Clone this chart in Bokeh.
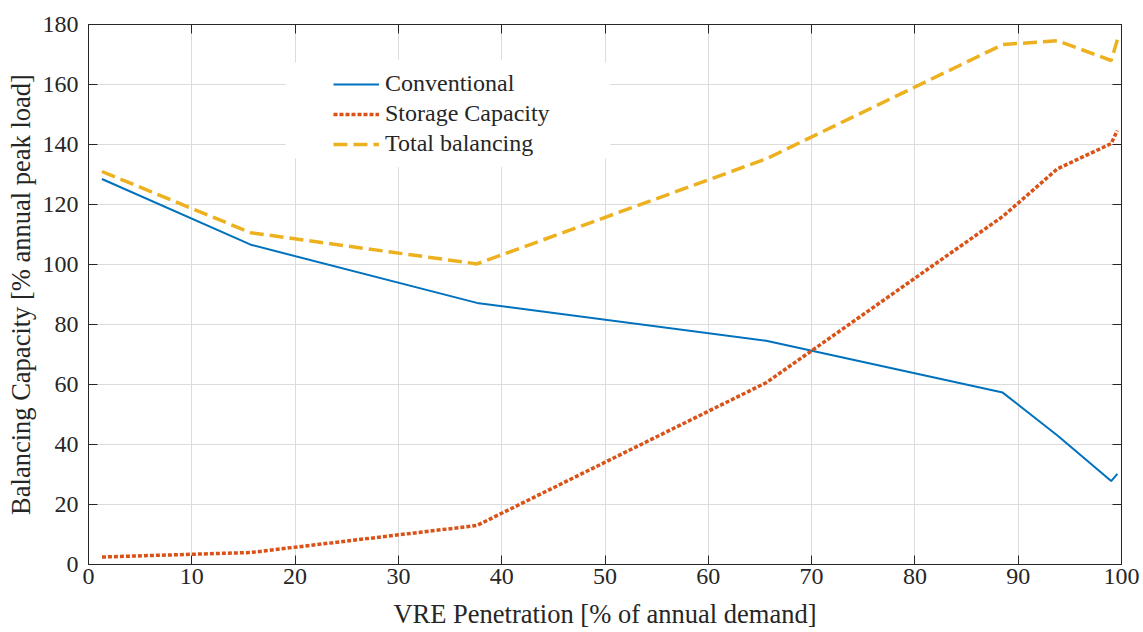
from bokeh.plotting import figure
from bokeh.models import (Range1d, LinearAxis, FixedTicker, Legend, LegendItem,
                          BoxAnnotation)
from bokeh.embed import file_html
from bokeh.resources import INLINE

# ---- data ----
vre = [1.3, 15.7, 37.6, 65.6, 88.5, 93.8, 99.0, 99.6]
conventional = [128.5, 106.6, 87.2, 74.6, 57.3, 43.0, 27.8, 30.2]
storage = [2.5, 4.0, 13.0, 60.6, 116.0, 131.9, 140.3, 144.7]
total = [131.0, 110.6, 100.2, 135.2, 173.3, 174.6, 168.0, 174.9]

x_ticks = [0, 10, 20, 30, 40, 50, 60, 70, 80, 90, 100]
y_ticks = [0, 20, 40, 60, 80, 100, 120, 140, 160, 180]

FONT = "Liberation Serif"
AX = "#262626"
FS = "24px"
LFS = "26.5px"

p = figure(width=1140, height=632, output_backend="svg", toolbar_location=None,
           x_range=Range1d(0, 100), y_range=Range1d(0, 180),
           min_border_left=88, min_border_right=19, min_border_top=24,
           min_border_bottom=68)
p.background_fill_color = "white"
p.border_fill_color = "white"
p.outline_line_color = AX
p.outline_line_width = 1

for ax in p.xaxis + p.yaxis:
    ax.major_label_text_font = FONT
    ax.major_label_text_font_size = FS
    ax.major_label_text_color = AX
    ax.axis_label_text_font = FONT
    ax.axis_label_text_font_size = LFS
    ax.axis_label_text_font_style = "normal"
    ax.axis_label_text_color = AX
    ax.axis_line_color = AX
    ax.major_tick_line_color = AX
    ax.major_tick_in = 9
    ax.major_tick_out = 0
    ax.minor_tick_in = 0
    ax.minor_tick_out = 0

p.xaxis.ticker = FixedTicker(ticks=x_ticks)
p.yaxis.ticker = FixedTicker(ticks=y_ticks)
p.xaxis.axis_label = "VRE Penetration [% of annual demand]"
p.yaxis.axis_label = "Balancing Capacity [% annual peak load]"
p.xaxis.major_label_standoff = 4
p.yaxis.major_label_standoff = 10
p.xaxis.axis_label_standoff = 12
p.yaxis.axis_label_standoff = 4

# mirrored axes (ticks only)
for loc, tick in (("right", y_ticks), ("above", x_ticks)):
    a = LinearAxis(ticker=FixedTicker(ticks=tick), major_label_text_alpha=0,
                   major_label_text_font_size="1px",
                   axis_line_color=AX, major_tick_line_color=AX,
                   major_tick_in=9, major_tick_out=0, minor_tick_in=0, minor_tick_out=0)
    p.add_layout(a, loc)

p.xgrid.ticker = FixedTicker(ticks=x_ticks)
p.ygrid.ticker = FixedTicker(ticks=y_ticks)
p.grid.grid_line_color = "#dcdcdc"
p.grid.grid_line_width = 1

r1 = p.line(vre, conventional, line_color="#0072BD", line_width=2)
r2 = p.line(vre, storage, line_color="#D95319", line_width=3.5, line_dash="4 2")
r3 = p.line(vre, total, line_color="#EDB120", line_width=3.5, line_dash="14 6")

# white legend background area
p.add_layout(BoxAnnotation(left=19.1, right=50.5, bottom=135.3, top=167.3,
                           fill_color="white", fill_alpha=1.0, line_alpha=0,
                           level="underlay"))

legend = Legend(items=[LegendItem(label="Conventional", renderers=[r1]),
                       LegendItem(label="Storage Capacity", renderers=[r2]),
                       LegendItem(label="Total balancing", renderers=[r3])],
                location=(235, 397), label_text_font=FONT,
                label_text_font_size=FS, label_text_color=AX,
                glyph_width=46, glyph_height=24, label_height=24,
                label_standoff=6, spacing=3, padding=10,
                border_line_alpha=0, background_fill_color="white",
                background_fill_alpha=1.0)
p.add_layout(legend)

open("out.html", "w").write(file_html(p, INLINE))
